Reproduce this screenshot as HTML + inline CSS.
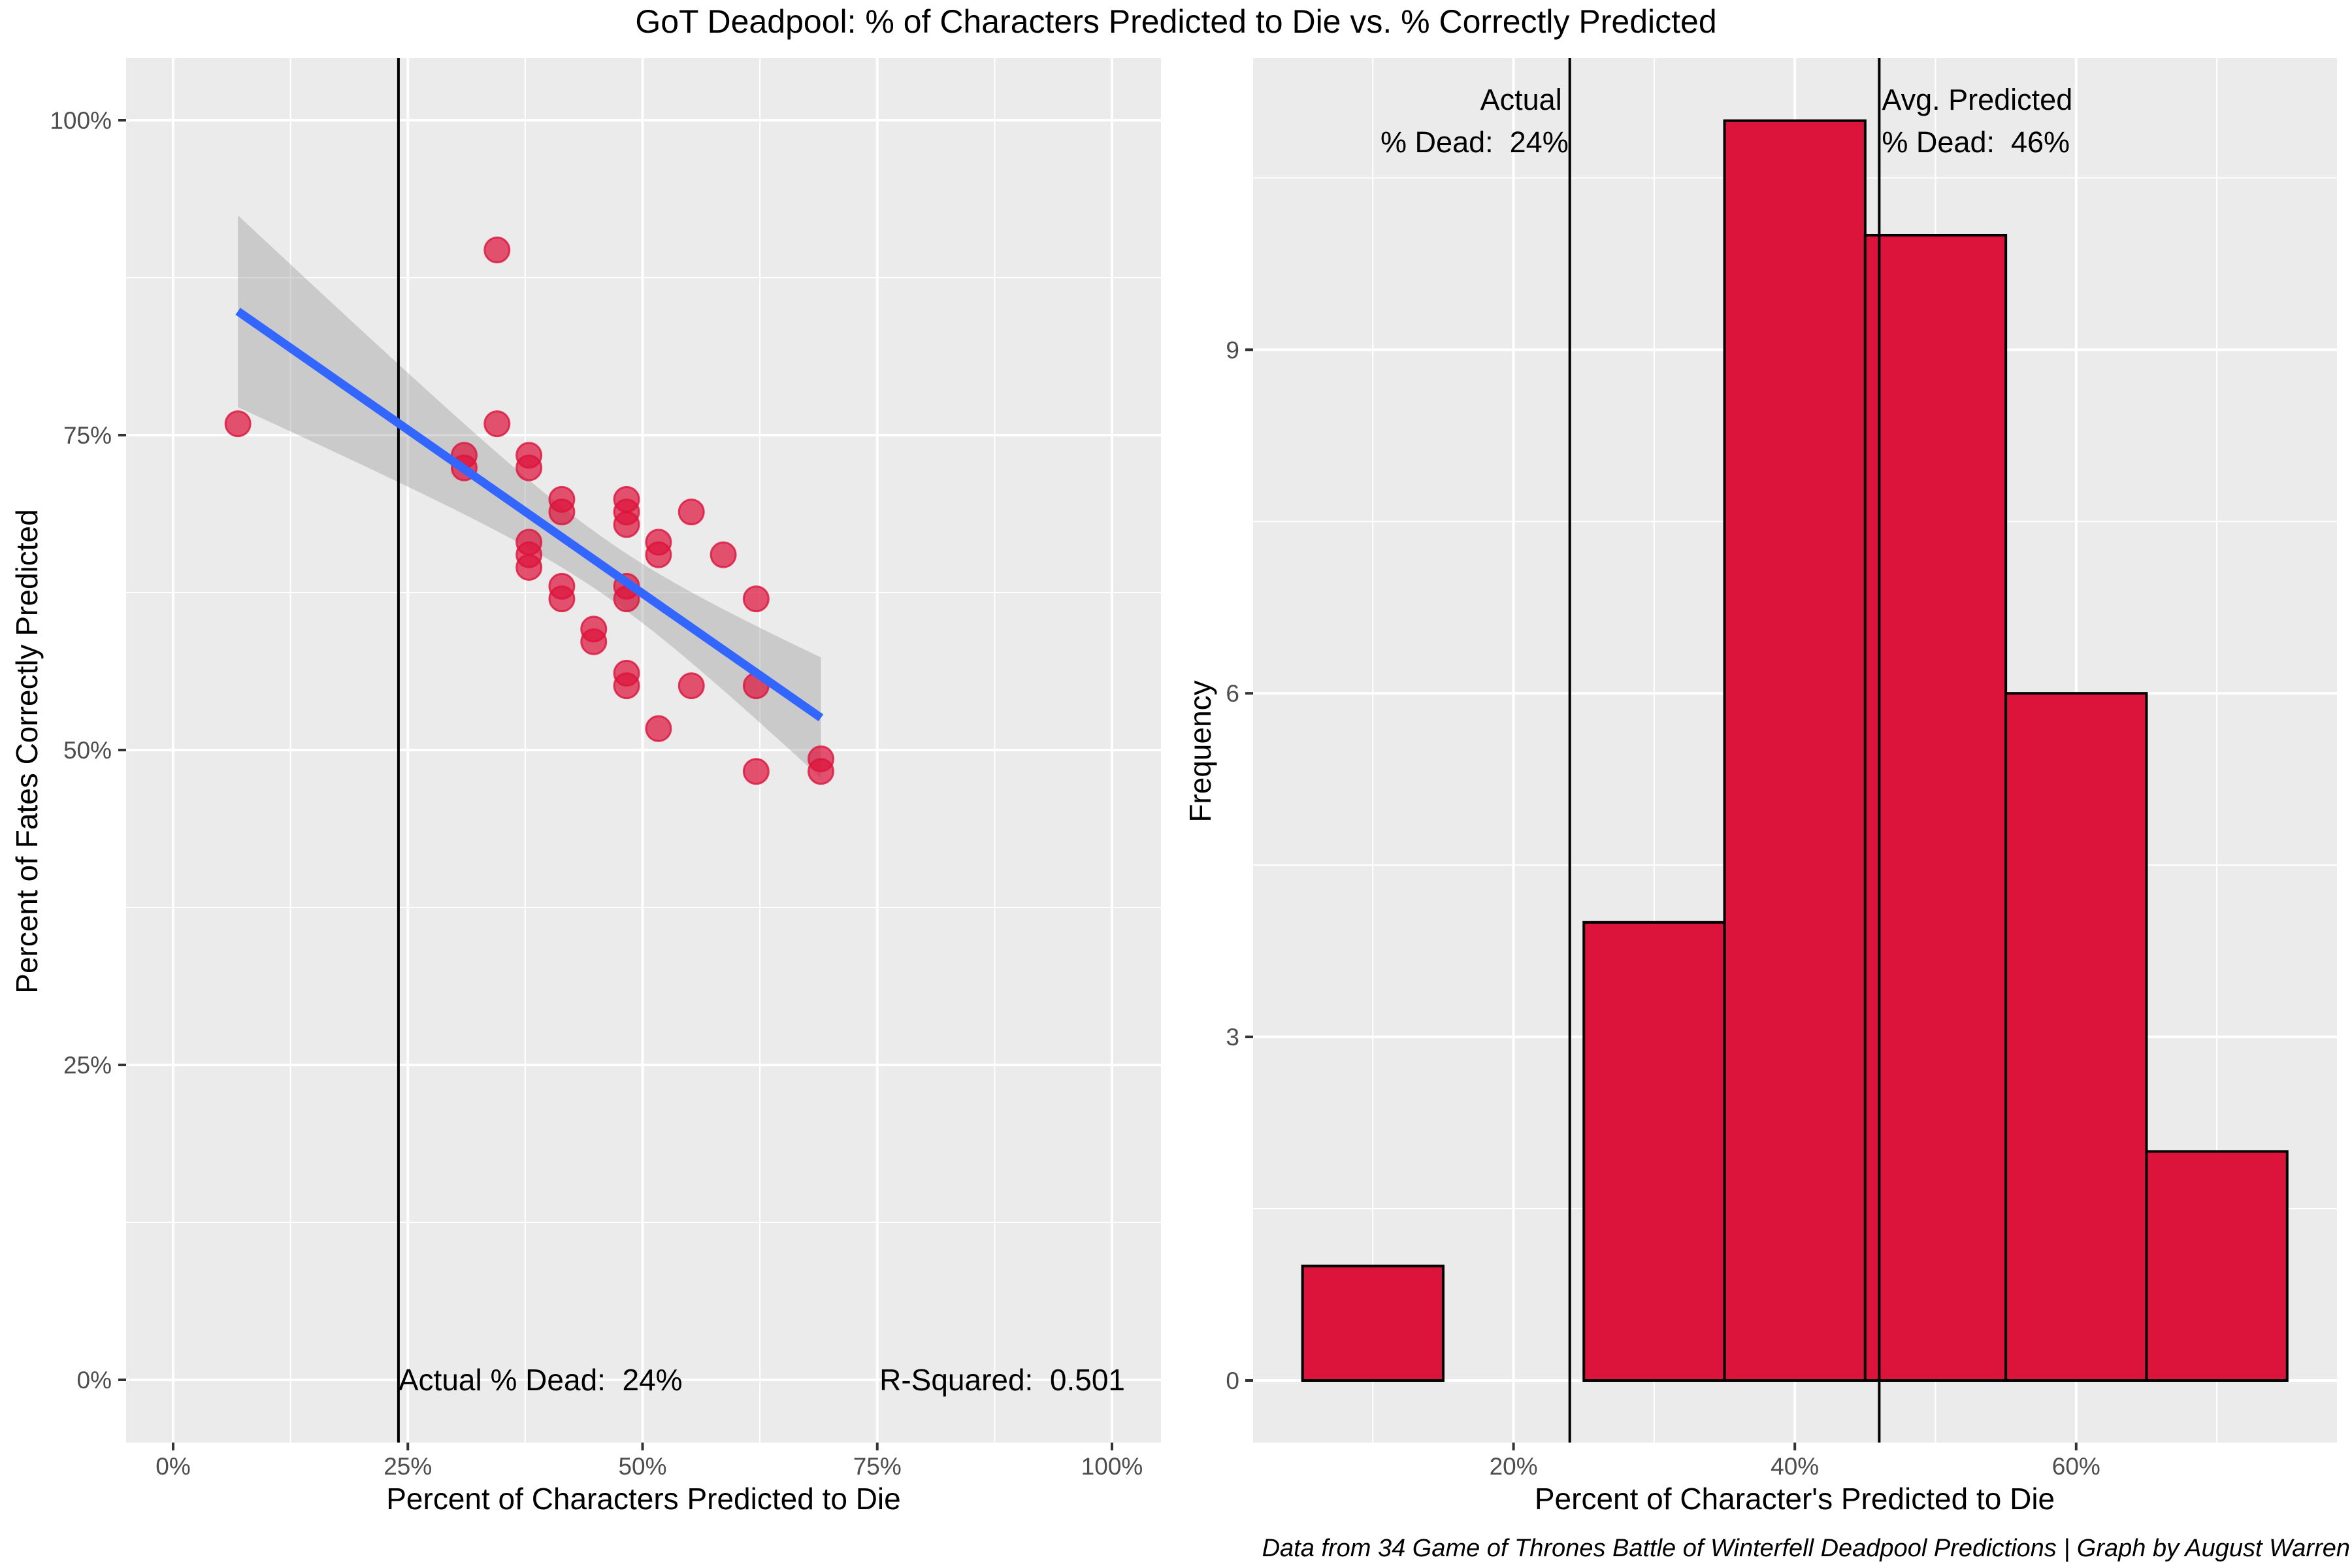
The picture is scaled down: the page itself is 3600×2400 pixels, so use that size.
<!DOCTYPE html>
<html><head><meta charset="utf-8"><style>
html,body{margin:0;padding:0;background:#fff;}
svg{display:block;font-family:"Liberation Sans",Arial,sans-serif;}
.pre{white-space:pre;}
</style></head><body>
<svg id="chart" width="3600" height="2400" viewBox="0 0 3600 2400" xmlns="http://www.w3.org/2000/svg">
<text x="1800" y="50" font-size="50" text-anchor="middle" fill="#000">GoT Deadpool: % of Characters Predicted to Die vs. % Correctly Predicted</text>
<g id="left"></g>
<g id="right"></g>
<text x="3597" y="2382" font-size="38" font-style="italic" text-anchor="end" fill="#000">Data from 34 Game of Thrones Battle of Winterfell Deadpool Predictions | Graph by August Warren</text>
</svg>
<script>
// Scatter data (percent)
const predictedPct = [6.9,34.5,34.5,31.0,31.0,37.9,37.9,41.4,41.4,48.3,48.3,48.3,55.2,51.7,51.7,58.6,37.9,37.9,37.9,41.4,41.4,48.3,48.3,62.1,44.8,44.8,48.3,48.3,55.2,62.1,51.7,62.1,69.0,69.0];
const correctPct   = [75.9,89.7,75.9,73.4,72.4,73.4,72.4,69.9,68.9,69.9,68.9,67.9,68.9,66.5,65.5,65.5,66.5,65.5,64.5,63.0,62.0,63.0,62.0,62.0,59.6,58.6,56.1,55.1,55.1,55.1,51.7,48.3,49.3,48.3];
const xTicksLeft = [0,25,50,75,100];
const yTicksLeft = [0,25,50,75,100];
const actualDead = 24;
const avgPredicted = 46;
// Histogram data
const binStarts = [5,15,25,35,45,55,65];
const binCounts = [1,0,4,11,10,6,2];
const binWidth = 10;
const xTicksRight = [20,40,60];
const yTicksRight = [0,3,6,9];

const NS="http://www.w3.org/2000/svg";
function mk(parent,tag,attrs,txt){const e=document.createElementNS(NS,tag);for(const k in attrs)e.setAttribute(k,attrs[k]);if(txt!==undefined)e.textContent=txt;parent.appendChild(e);return e;}

// ---------- Left panel ----------
const L=document.getElementById('left');
const lx=v=>265+v*14.37, ly=v=>2112-v*19.28;
const LP={x0:193,x1:1777,y0:89,y1:2208};
let e;
e=mk(L,'rect',{x:LP.x0,y:LP.y0,width:LP.x1-LP.x0,height:LP.y1-LP.y0,fill:'#EBEBEB'});


for(let i=0;i<xTicksLeft.length-1;i++){const m=(xTicksLeft[i]+xTicksLeft[i+1])/2;
 e=mk(L,'line',{x1:lx(m),x2:lx(m),y1:LP.y0,y2:LP.y1,stroke:'#fff','stroke-width':2});
 
 
 e=mk(L,'line',{x1:LP.x0,x2:LP.x1,y1:ly(m),y2:ly(m),stroke:'#fff','stroke-width':2});
 
 }
xTicksLeft.forEach(t=>{
 e=mk(L,'line',{x1:lx(t),x2:lx(t),y1:LP.y0,y2:LP.y1,stroke:'#fff','stroke-width':4});
 
 
 e=mk(L,'line',{x1:lx(t),x2:lx(t),y1:LP.y1,y2:LP.y1+12,stroke:'#333','stroke-width':4});
 
 
 e=mk(L,'text',{x:lx(t),y:2257,'font-size':37,'text-anchor':'middle',fill:'#4D4D4D'},t+'%');
 
 });
yTicksLeft.forEach(t=>{
 e=mk(L,'line',{x1:LP.x0,x2:LP.x1,y1:ly(t),y2:ly(t),stroke:'#fff','stroke-width':4});
 
 
 e=mk(L,'line',{x1:LP.x0-12,x2:LP.x0,y1:ly(t),y2:ly(t),stroke:'#333','stroke-width':4});
 
 
 e=mk(L,'text',{x:171,y:ly(t)+13,'font-size':37,'text-anchor':'end',fill:'#4D4D4D'},t+'%');
 
 });
// regression
const n=predictedPct.length;
const mx=predictedPct.reduce((a,b)=>a+b,0)/n, my=correctPct.reduce((a,b)=>a+b,0)/n;
let sxx=0,sxy=0;for(let i=0;i<n;i++){sxx+=(predictedPct[i]-mx)**2;sxy+=(predictedPct[i]-mx)*(correctPct[i]-my);}
const b1=sxy/sxx,b0=my-b1*mx;
let sse=0;for(let i=0;i<n;i++)sse+=(correctPct[i]-b0-b1*predictedPct[i])**2;
const s=Math.sqrt(sse/(n-2)),tq=2.037;
const xmin=Math.min(...predictedPct),xmax=Math.max(...predictedPct);
let up=[],lo=[];
for(let k=0;k<=80;k++){const x=xmin+(xmax-xmin)*k/80;const f=b0+b1*x;const se=s*Math.sqrt(1/n+(x-mx)**2/sxx);
 up.push(lx(x)+','+ly(f+tq*se));lo.unshift(lx(x)+','+ly(f-tq*se));}
e=mk(L,'polygon',{points:up.concat(lo).join(' '),fill:'#999',opacity:0.4});


e=mk(L,'line',{x1:lx(actualDead),x2:lx(actualDead),y1:LP.y0,y2:LP.y1,stroke:'#000','stroke-width':4});


predictedPct.forEach((p,i)=>{
 e=mk(L,'circle',{cx:lx(p),cy:ly(correctPct[i]),r:19,fill:'#DC143C','fill-opacity':0.72,stroke:'#DC143C','stroke-opacity':0.8,'stroke-width':3});
 
 });
e=mk(L,'line',{x1:lx(xmin),y1:ly(b0+b1*xmin),x2:lx(xmax),y2:ly(b0+b1*xmax),stroke:'#3366FF','stroke-width':13});


e=mk(L,'text',{x:lx(actualDead),y:2128,'font-size':46,fill:'#000','class':'pre'},'Actual % Dead:  '+actualDead+'%');


e=mk(L,'text',{x:1722,y:2128,'font-size':46,fill:'#000','text-anchor':'end','class':'pre'},'R-Squared:  0.501');


e=mk(L,'text',{x:985,y:2310,'font-size':46,'text-anchor':'middle',fill:'#000'},'Percent of Characters Predicted to Die');


e=mk(L,'text',{x:0,y:0,'font-size':46,'text-anchor':'middle',fill:'#000',transform:'translate(57,1150) rotate(-90)'},'Percent of Fates Correctly Predicted');



// ---------- Right panel ----------
const R=document.getElementById('right');
const rx=v=>1886+v*21.53, ry=v=>2113-v*175.3;
const RP={x0:1918,x1:3577,y0:89,y1:2208};
e=mk(R,'rect',{x:RP.x0,y:RP.y0,width:RP.x1-RP.x0,height:RP.y1-RP.y0,fill:'#EBEBEB'});


[10,30,50,70].forEach(m=>{
 e=mk(R,'line',{x1:rx(m),x2:rx(m),y1:RP.y0,y2:RP.y1,stroke:'#fff','stroke-width':2});
 
 });
[1.5,4.5,7.5,10.5].forEach(m=>{
 e=mk(R,'line',{x1:RP.x0,x2:RP.x1,y1:ry(m),y2:ry(m),stroke:'#fff','stroke-width':2});
 
 });
xTicksRight.forEach(t=>{
 e=mk(R,'line',{x1:rx(t),x2:rx(t),y1:RP.y0,y2:RP.y1,stroke:'#fff','stroke-width':4});
 
 
 e=mk(R,'line',{x1:rx(t),x2:rx(t),y1:RP.y1,y2:RP.y1+12,stroke:'#333','stroke-width':4});
 
 
 e=mk(R,'text',{x:rx(t),y:2257,'font-size':37,'text-anchor':'middle',fill:'#4D4D4D'},t+'%');
 
 });
yTicksRight.forEach(t=>{
 e=mk(R,'line',{x1:RP.x0,x2:RP.x1,y1:ry(t),y2:ry(t),stroke:'#fff','stroke-width':4});
 
 
 e=mk(R,'line',{x1:RP.x0-12,x2:RP.x0,y1:ry(t),y2:ry(t),stroke:'#333','stroke-width':4});
 
 
 e=mk(R,'text',{x:1897,y:ry(t)+13,'font-size':37,'text-anchor':'end',fill:'#4D4D4D'},String(t));
 
 });
binStarts.forEach((b,i)=>{
 const x0=rx(b),x1=rx(b+binWidth),y=ry(binCounts[i]);
 e=mk(R,'rect',{x:x0,y:y,width:x1-x0,height:ry(0)-y,fill:'#DC143C',stroke:'#000','stroke-width':4});
 
 });
e=mk(R,'line',{x1:rx(actualDead),x2:rx(actualDead),y1:RP.y0,y2:RP.y1,stroke:'#000','stroke-width':4});


e=mk(R,'line',{x1:rx(avgPredicted),x2:rx(avgPredicted),y1:RP.y0,y2:RP.y1,stroke:'#000','stroke-width':4});


e=mk(R,'text',{x:rx(actualDead)-12,y:168,'font-size':45,'text-anchor':'end',fill:'#000'},'Actual');


e=mk(R,'text',{x:rx(actualDead)-2,y:233,'font-size':45,'text-anchor':'end',fill:'#000','class':'pre'},'% Dead:  '+actualDead+'%');


e=mk(R,'text',{x:rx(avgPredicted)+4,y:168,'font-size':45,fill:'#000'},'Avg. Predicted');


e=mk(R,'text',{x:rx(avgPredicted)+4,y:233,'font-size':45,fill:'#000','class':'pre'},'% Dead:  '+avgPredicted+'%');


e=mk(R,'text',{x:2747,y:2310,'font-size':46,'text-anchor':'middle',fill:'#000'},"Percent of Character's Predicted to Die");


e=mk(R,'text',{x:0,y:0,'font-size':46,'text-anchor':'middle',fill:'#000',transform:'translate(1853,1150) rotate(-90)'},'Frequency');


</script>
</body></html>
